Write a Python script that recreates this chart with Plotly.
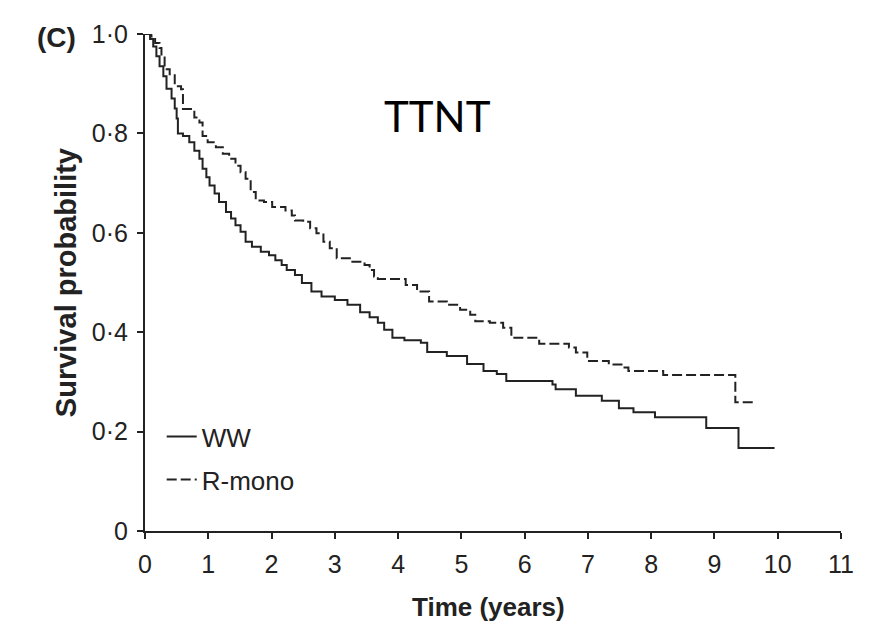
import plotly.graph_objects as go

# Kaplan-Meier time to next treatment
ww_time = [0, 0.08, 0.13, 0.18, 0.23, 0.29, 0.34, 0.42, 0.47, 0.50, 0.52, 0.60, 0.70, 0.78,
           0.86, 0.91, 0.97, 1.02, 1.10, 1.17, 1.28, 1.36, 1.43, 1.51, 1.59, 1.69, 1.83,
           1.96, 2.06, 2.16, 2.24, 2.37, 2.48, 2.63, 2.79, 3.00, 3.20, 3.40, 3.55, 3.68,
           3.78, 3.91, 4.10, 4.36, 4.46, 4.77, 5.09, 5.35, 5.56, 5.71, 6.44, 6.49, 6.81,
           7.22, 7.49, 7.72, 8.06, 8.87, 9.38, 9.95]
ww_surv = [1.0, 0.99, 0.975, 0.955, 0.935, 0.915, 0.89, 0.87, 0.85, 0.83, 0.80, 0.795, 0.782,
           0.765, 0.749, 0.729, 0.712, 0.695, 0.679, 0.662, 0.642, 0.629, 0.615, 0.602, 0.582,
           0.572, 0.562, 0.555, 0.545, 0.535, 0.525, 0.515, 0.499, 0.482, 0.472, 0.465, 0.455,
           0.44, 0.43, 0.419, 0.405, 0.389, 0.384, 0.379, 0.36, 0.352, 0.336, 0.322, 0.316,
           0.302, 0.295, 0.285, 0.272, 0.262, 0.247, 0.239, 0.229, 0.207, 0.167, 0.167]

rmono_time = [0, 0.10, 0.16, 0.23, 0.26, 0.31, 0.39, 0.47, 0.57, 0.60, 0.78, 0.86, 0.91, 0.99,
              1.12, 1.23, 1.33, 1.43, 1.51, 1.59, 1.67, 1.75, 1.88, 2.01, 2.22, 2.32, 2.37,
              2.50, 2.61, 2.71, 2.82, 2.92, 3.03, 3.26, 3.47, 3.55, 3.62, 3.68, 4.12, 4.30,
              4.49, 4.77, 4.98, 5.14, 5.22, 5.45, 5.66, 5.79, 6.23, 6.70, 6.81, 6.99, 7.33,
              7.56, 7.64, 8.19, 9.33, 9.66]
rmono_surv = [1.0, 0.995, 0.982, 0.972, 0.955, 0.929, 0.919, 0.895, 0.889, 0.849, 0.832, 0.822,
              0.795, 0.782, 0.772, 0.759, 0.749, 0.735, 0.722, 0.709, 0.682, 0.665, 0.662,
              0.652, 0.645, 0.635, 0.625, 0.622, 0.609, 0.599, 0.582, 0.569, 0.549, 0.542,
              0.535, 0.525, 0.512, 0.507, 0.495, 0.482, 0.462, 0.455, 0.445, 0.435, 0.422,
              0.419, 0.409, 0.389, 0.377, 0.369, 0.359, 0.342, 0.335, 0.329, 0.322, 0.314,
              0.259, 0.259]

x_ticks = list(range(12))
y_ticks = [0, 0.2, 0.4, 0.6, 0.8, 1.0]
y_ticktext = ["0", "0·2", "0·4", "0·6", "0·8", "1·0"]

ink = "#222222"
sans = "Liberation Sans, Arial, sans-serif"

fig = go.Figure()
fig.add_trace(go.Scatter(
    x=ww_time, y=ww_surv, mode="lines", line_shape="hv", name="WW",
    legendgroup="a", line=dict(color=ink, width=2)))
fig.add_trace(go.Scatter(
    x=rmono_time, y=rmono_surv, mode="lines", line_shape="hv", name="R-mono",
    legendgroup="b", line=dict(color=ink, width=2, dash="10px,4px")))

fig.update_xaxes(
    range=[0, 11], tickvals=x_ticks, showline=True, linewidth=2, linecolor=ink,
    ticks="outside", ticklen=6, tickwidth=2, tickcolor=ink, showgrid=False,
    zeroline=False, ticklabelstandoff=4, tickfont=dict(family=sans, size=25, color=ink))
fig.update_yaxes(
    range=[0, 1], tickvals=y_ticks, ticktext=y_ticktext, showline=True, linewidth=2,
    linecolor=ink, ticks="outside", ticklen=6, tickwidth=2, tickcolor=ink,
    showgrid=False, zeroline=False, ticklabelstandoff=4,
    tickfont=dict(family=sans, size=25, color=ink))

fig.add_annotation(text="<b>Time (years)</b>", xref="paper", yref="paper", x=0.494,
                   y=-0.152, xanchor="center", yanchor="middle", showarrow=False,
                   font=dict(family=sans, size=26, color=ink))
fig.add_annotation(text="<b>Survival probability</b>", xref="paper", yref="paper",
                   x=-0.114, y=0.5, xanchor="center", yanchor="middle", textangle=-90,
                   showarrow=False, font=dict(family=sans, size=29, color=ink))
fig.add_annotation(text="<b>(C)</b>", xref="paper", yref="paper", x=-0.127, y=0.992,
                   xanchor="center", yanchor="middle", showarrow=False,
                   font=dict(family=sans, size=28, color=ink))
fig.add_annotation(text="TTNT", xref="paper", yref="paper", x=0.42, y=0.836,
                   xanchor="center", yanchor="middle", showarrow=False,
                   font=dict(family="Lato, sans-serif", size=42, color="black"))

# page has an 8px body margin, so the figure is shrunk and margins shifted to match
fig.update_layout(
    width=858, height=617,
    margin=dict(l=137, r=18, t=23, b=94),
    paper_bgcolor="white", plot_bgcolor="white",
    showlegend=True,
    legend=dict(x=0.024, y=0.237, xanchor="left", yanchor="top",
                bgcolor="rgba(0,0,0,0)", tracegroupgap=6, traceorder="grouped",
                font=dict(family=sans, size=26, color=ink)),
)

fig.write_html("out.html")
